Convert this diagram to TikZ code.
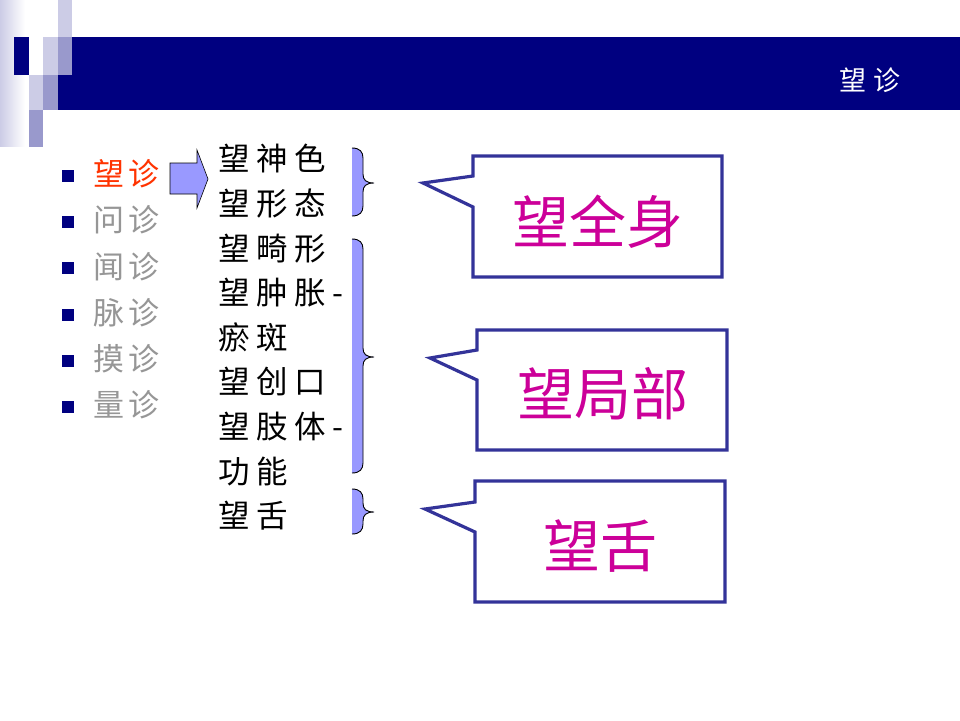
\documentclass[tikz,border=0pt]{standalone}
\usepackage{fontspec}
\setmainfont{Noto Sans CJK SC}
\newfontfamily\cjkmid[LetterSpace=21]{Noto Sans CJK SC}
\newfontfamily\cjklist[LetterSpace=13]{Noto Sans CJK SC}
\newfontfamily\cjktitle[LetterSpace=28]{Noto Sans CJK SC}
\newfontfamily\cjkbig{Noto Sans CJK SC}
\definecolor{navy}{HTML}{000080}
\definecolor{lavlight}{HTML}{CCCCE6}
\definecolor{lavmid}{HTML}{9999CC}
\definecolor{bluefill}{HTML}{9999FF}
\definecolor{calloutborder}{HTML}{333399}
\definecolor{magentatext}{HTML}{CC0099}
\definecolor{redtext}{HTML}{FF3300}
\definecolor{graytext}{HTML}{969696}
\newcommand\mybrace[3]{%
  \fill[bluefill] (352,#1) .. controls (360,#1) and (363,#1+4) .. (363,#1+10)
    -- (363,#2-9) .. controls (363,#2-3) and (366,#2) .. (374,#2)
    .. controls (366,#2) and (363,#2+3) .. (363,#2+9)
    -- (363,#3-10) .. controls (363,#3-4) and (360,#3) .. (352,#3) -- cycle;
  \draw[bracestroke] (352,#1) .. controls (360,#1) and (363,#1+4) .. (363,#1+10)
    -- (363,#2-9) .. controls (363,#2-3) and (366,#2) .. (374,#2)
    .. controls (366,#2) and (363,#2+3) .. (363,#2+9)
    -- (363,#3-10) .. controls (363,#3-4) and (360,#3) .. (352,#3);
}
\tikzset{
  bracestroke/.style={draw=black, line width=0.9pt},
  callout/.style={draw=calloutborder, line width=3.2pt, fill=white, line join=miter},
  midtext/.style={anchor=base west, inner sep=0pt, font=\cjkmid\fontsize{31.5}{31.5}\selectfont, text=black},
  listtext/.style={anchor=base west, inner sep=0pt, font=\cjklist\fontsize{31}{31}\selectfont},
  bigtext/.style={anchor=base, inner sep=0pt, font=\cjkbig\fontsize{57}{57}\selectfont, text=magentatext},
  bulletsq/.style={fill=navy, minimum size=12pt, inner sep=0pt, draw=none},
}
\begin{document}
\begin{tikzpicture}[x=1pt,y=-1pt]
\useasboundingbox (0,0) rectangle (960,720);
\fill[white] (0,0) rectangle (960,720);
% header decoration
\shade[left color=lavlight, right color=white] (0,0) rectangle (25,146);
\fill[lavlight] (58,0) rectangle (72,37);
\fill[lavlight] (43,37) rectangle (58,75);
\fill[lavlight] (29,75) rectangle (43,110);
\fill[lavmid] (58,37) rectangle (72,75);
\fill[lavmid] (43,75) rectangle (58,110);
\fill[lavmid] (29,110) rectangle (43,147);
\fill[navy] (14,37) rectangle (29,75);
\fill[navy] (72,37) rectangle (960,75);
\fill[navy] (58,75) rectangle (960,110);
\node[anchor=base west, inner sep=0pt, text=white, font=\cjktitle\fontsize{27}{27}\selectfont] (title) at (839,90) {望诊};
% bullet list
\foreach \i/\t/\c in {0/望诊/redtext,1/问诊/graytext,2/闻诊/graytext,3/脉诊/graytext,4/摸诊/graytext,5/量诊/graytext}{
  \node[bulletsq] (b\i) at (67.5,176+46.2*\i) {};
  \node[listtext, text=\c] (l\i) at (93,174+46.2*\i+11.6) {\t};
}
% block arrow
\draw[fill=bluefill, draw=black, line width=0.6pt] (170,163) -- (197,163) -- (197,150) -- (208,179) -- (197,208) -- (197,194) -- (170,194) -- cycle;
% middle column
\foreach \i/\t in {0/望神色,1/望形态,2/望畸形,3/望肿胀-,4/瘀斑,5/望创口,6/望肢体-,7/功能,8/望舌}{
  \node[midtext] (m\i) at (218,159+44.6*\i+11.8) {\t};
}
% braces
\mybrace{148}{183}{216}
\mybrace{239}{357}{473}
\mybrace{489}{512}{534}
% callouts
\draw[callout] (473,156) -- (722,156) -- (722,277) -- (473,277) -- (473,207) -- (423,183) -- (473,176) -- cycle;
\draw[callout] (477,330) -- (727,330) -- (727,450) -- (477,450) -- (477,380) -- (430,358) -- (477,350) -- cycle;
\draw[callout] (475,481) -- (725,481) -- (725,602) -- (475,602) -- (475,532) -- (425,509) -- (475,502) -- cycle;
\node[bigtext] (c1) at (598,222+21.5) {望全身};
\node[bigtext] (c2) at (603,394+21.5) {望局部};
\node[bigtext] (c3) at (600,546+21.5) {望舌};
\end{tikzpicture}
\end{document}
